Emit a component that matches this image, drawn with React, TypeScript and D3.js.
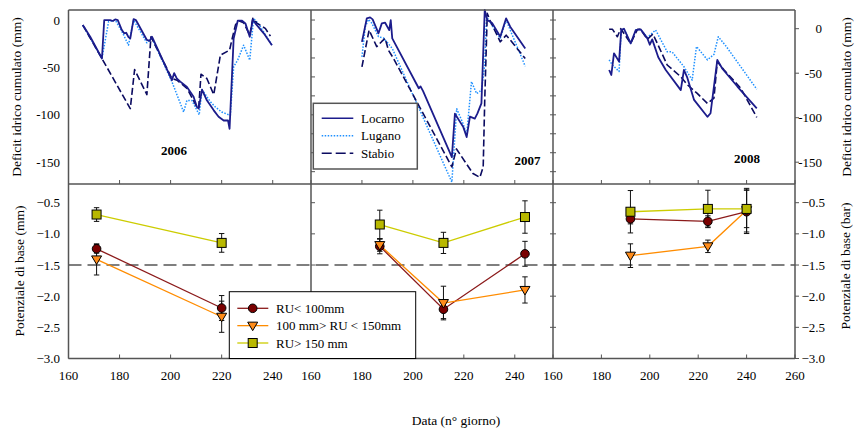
import React from "react";
import * as d3 from "d3";

// ---------- DATA ----------
// Cumulated water deficit (mm), [day, value]
const locarno2006: [number, number][] = [[165.6,-5.3],[168.5,-17.6],[173.1,-40.6],[174.0,0],[176.3,0],[177.4,-1],[178.3,0.7],[179.3,0],[180.9,-10.6],[181.8,-14],[182.6,-13.4],[183.5,-18],[184.2,-19.4],[185.5,1],[186.4,0],[190.7,-21],[191.8,-22],[192.7,-17.6],[200.5,-63.5],[201.4,-56],[202.5,-62],[203.8,-65],[206.4,-70.6],[209,-81],[210.3,-91.7],[211,-93.5],[212.3,-73.4],[214.2,-84.7],[216.9,-95.3],[218.8,-102],[220.8,-106],[222.5,-106],[223.1,-114.7],[224.7,-19.4],[226.3,-0.7],[228,-0.7],[229.3,-3.5],[231,-17.6],[232.2,0.7],[233.2,-3.5],[236.5,-14],[239.7,-26.5]];
const lugano2006: [number, number][] = [[165.6,-5.3],[173.1,-40.6],[175.7,-1.8],[178.3,0],[180.9,-12],[183.5,-26.5],[185.5,0],[190.7,-24],[192.7,-19],[200.5,-65],[205.1,-97],[206.4,-84.7],[208.4,-85],[211.2,-100],[212.3,-73.4],[215.5,-86],[217.5,-91.7],[220,-97],[223.4,-100.6],[224.7,-49.4],[226.3,-42],[228.6,-26.5],[231,-42.3],[232.5,1.8],[234.5,-4.2],[239.7,-26.5]];
const stabio2006: [number, number][] = [[165.6,-5.3],[173.1,-40.6],[184.2,-93.5],[185.9,-52.2],[190.7,-78.7],[192.3,-17.6],[200.5,-61.7],[202.5,-63.5],[206.4,-72],[210.3,-91.7],[211,-93],[211.9,-57.2],[214.2,-61.7],[216.9,-78.7],[219.5,-37],[223.1,-31.8],[224,-21],[225.4,-5.3],[226.7,-0.7],[228.6,-2.8],[231,-15.9],[232.2,1.8],[233.9,-3.5],[237.1,-8.8],[239.1,-17]];

const locarno2007: [number, number][] = [[180,-23],[181.9,1.8],[183.2,2.8],[184.2,0.7],[186.5,-14],[187.8,-3.5],[189.1,-2.8],[190.7,-10.6],[191.3,0],[191.9,-19.4],[202.3,-72],[203,-70],[204,-75],[215.3,-144.7],[216.5,-98.8],[219.8,-113],[221.1,-123.5],[222.4,-102],[224.3,-104],[225.3,-98.8],[226.9,-88],[228.2,10.6],[229.2,0],[231.2,-3.5],[234.3,-17.6],[236.6,1.8],[238.2,-7],[244.1,-30]];
const lugano2007: [number, number][] = [[180,-38.8],[181.3,-7],[182.6,0.7],[183.8,-3],[186.5,-17.6],[188.5,-19],[189.1,-21],[190.4,-25],[191.9,-30],[215.3,-171],[217.2,-93.5],[219.8,-110],[221.1,-121.7],[223,-65],[225,-77.6],[226.9,-74],[228.2,-47.6],[228.9,3.5],[230.2,-1.8],[234.3,-19.4],[236.6,0],[238.2,-10.6],[244.1,-48.7]];
const stabio2007: [number, number][] = [[180,-49.4],[182.8,-10.6],[185.8,-28],[187.8,-22.6],[189.1,-19.4],[190.4,-31.8],[192.4,-40.6],[215.3,-155],[217.1,-136],[223.6,-162],[226.3,-166],[227.6,-155],[228.2,-84.7],[229.2,7],[230.2,0],[234.3,-23],[236.6,-16],[238.2,-21],[244.1,-40.6]];

const locarno2008: [number, number][] = [[183.2,-46.4],[184.1,-52],[185.2,-27.7],[187.3,-37],[188.2,-1.5],[189.3,0],[192.1,-16.5],[194.2,-1.5],[196.2,-0.7],[199,-10.9],[200,-18],[201,-12],[203.5,-32],[206.6,-46.4],[212.8,-69],[214.1,-46.4],[215.5,-55],[218.3,-80],[223.8,-99],[225.1,-95],[227.9,-35],[230,-45],[236.2,-65],[244.2,-89.5]];
const lugano2008: [number, number][] = [[183.2,-35],[184.6,-41],[187.3,-48],[188.2,-1.5],[189.3,0],[192.1,-16.5],[194.2,-1.5],[196.2,-0.7],[199,-10],[202.4,-1.5],[207.2,-26],[209.2,-26],[214.1,-42.7],[217.5,-57.7],[219.3,-20],[223.8,-35],[226.5,-29],[228.3,-9],[231.6,-20],[244.2,-68]];
const stabio2008: [number, number][] = [[183.2,-0.7],[184.6,-0.7],[186.6,-9],[188,0],[192.1,-16.5],[194.9,-0.7],[196.2,-0.7],[199,-12],[201.3,-6],[203.1,-16.5],[207.2,-40.8],[212.8,-54],[215.5,-63],[219.6,-72.7],[223.8,-84],[226.5,-78],[227.9,-37],[230.7,-46.4],[237.6,-67],[244.2,-99.6]];

// Base potential, by measurement day
const days2006 = [171, 220];
const days2007 = [187, 212, 244];
const days2008 = [192, 224, 240];

const ruLow2006 = [-1.24, -2.19];
const ruLowErr2006 = [0.07, 0.2];
const ruMid2006 = [-1.41, -2.33];
const ruMidErr2006 = [0.25, 0.25];
const ruHigh2006 = [-0.69, -1.145];
const ruHighErr2006 = [0.11, 0.15];

const ruLow2007 = [-1.2, -2.21, -1.32];
const ruLowErr2007 = [0.12, 0.15, 0.2];
const ruMid2007 = [-1.18, -2.11, -1.9];
const ruMidErr2007 = [0.1, 0.27, 0.21];
const ruHigh2007 = [-0.85, -1.145, -0.73];
const ruHighErr2007 = [0.23, 0.17, 0.26];

const ruLow2008 = [-0.76, -0.8, -0.645];
const ruLowErr2008 = [0.08, 0.09, 0.35];
const ruMid2008 = [-1.35, -1.2, -0.62];
const ruMidErr2008 = [0.19, 0.1, 0.35];
const ruHigh2008 = [-0.645, -0.6, -0.6];
const ruHighErr2008 = [0.34, 0.3, 0.3];

const years = ["2006", "2007", "2008"];
const stationNames = ["Locarno", "Lugano", "Stabio"];
const ruNames = ["RU< 100mm", "100 mm> RU < 150mm", "RU> 150 mm"];
const topTicks = [0, -50, -100, -150];
const bottomTicks = [-0.5, -1.0, -1.5, -2.0, -2.5, -3.0];

// ---------- LAYOUT / STYLE ----------
const FONT = "'Liberation Serif', 'Times New Roman', serif";
const X0 = 68.5, X1 = 311, X2 = 553, X3 = 795;
const TOP = 10, MID = 184, BOT = 358.5;
const FRAME = "#555";

const stationStyles = [
  { stroke: "#1c1c8c", width: 1.8, dash: undefined as string | undefined, legendDash: undefined as string | undefined },
  { stroke: "#1e90ff", width: 1.5, dash: "1.5,1.5", legendDash: "1.5,1.5" },
  { stroke: "#0b0b60", width: 1.6, dash: "7,3", legendDash: "10,4" },
];
const ruStyles = [
  { line: "#8b1a1a", fill: "#7a0000", shape: "circle" },
  { line: "#ff8c00", fill: "#ff8c1a", shape: "tri" },
  { line: "#cccc00", fill: "#b8b800", shape: "square" },
];

const panels = [
  {
    year: years[0],
    x: d3.scaleLinear().domain([160, 255]).range([X0, X1]),
    yTop: d3.scaleLinear().domain([-173, 10.6]).range([MID, TOP]),
    xTicks: [160, 180, 200, 220, 240],
    stations: [locarno2006, lugano2006, stabio2006],
    days: days2006,
    ru: [[ruLow2006, ruLowErr2006], [ruMid2006, ruMidErr2006], [ruHigh2006, ruHighErr2006]],
    yearPos: [174, 155],
  },
  {
    year: years[1],
    x: d3.scaleLinear().domain([160, 255]).range([X1, X2]),
    yTop: d3.scaleLinear().domain([-173, 10.6]).range([MID, TOP]),
    xTicks: [160, 180, 200, 220, 240],
    stations: [locarno2007, lugano2007, stabio2007],
    days: days2007,
    ru: [[ruLow2007, ruLowErr2007], [ruMid2007, ruMidErr2007], [ruHigh2007, ruHighErr2007]],
    yearPos: [527.5, 165],
  },
  {
    year: years[2],
    x: d3.scaleLinear().domain([160, 260]).range([X2, X3]),
    yTop: d3.scaleLinear().domain([-174.5, 21]).range([MID, TOP]),
    xTicks: [160, 180, 200, 220, 240, 260],
    stations: [locarno2008, lugano2008, stabio2008],
    days: days2008,
    ru: [[ruLow2008, ruLowErr2008], [ruMid2008, ruMidErr2008], [ruHigh2008, ruHighErr2008]],
    yearPos: [747, 163],
  },
];

const yBot = d3.scaleLinear().domain([-3, -0.2]).range([BOT, MID]);
const fmt = d3.format(".1f");

function Marker({ shape, cx, cy, fill }: { shape: string; cx: number; cy: number; fill: string }) {
  if (shape === "circle") return <circle cx={cx} cy={cy} r={4.3} fill={fill} stroke="#000" strokeWidth={1} />;
  if (shape === "square") return <rect x={cx - 4.5} y={cy - 4.5} width={9} height={9} fill={fill} stroke="#000" strokeWidth={1} />;
  const s = 5;
  return <path d={`M${cx - s},${cy - 3.5}L${cx + s},${cy - 3.5}L${cx},${cy + 5}Z`} fill={fill} stroke="#000" strokeWidth={1} />;
}

export default function App() {
  const midTicks = d3.range(0, -161, -20);
  return (
    <svg width={857} height={432} style={{ position: "absolute", left: 0, top: 0, background: "#fff" }} fontFamily={FONT}>
      {/* top panel lines */}
      {panels.map((p, pi) => {
        const line = d3.line<[number, number]>().x((d) => p.x(d[0])).y((d) => p.yTop(d[1]));
        return (
          <g key={"t" + pi}>
            {[1, 2, 0].map((si) => (
              <path key={si} d={line(p.stations[si]) || ""} fill="none" stroke={stationStyles[si].stroke}
                strokeWidth={stationStyles[si].width} strokeDasharray={stationStyles[si].dash} strokeLinejoin="round" />
            ))}
            <text x={p.yearPos[0]} y={p.yearPos[1]} textAnchor="middle" fontSize={13} fontWeight="bold">{p.year}</text>
          </g>
        );
      })}

      {/* threshold line */}
      <line x1={X0} x2={X3} y1={yBot(-1.5)} y2={yBot(-1.5)} stroke="#000" strokeWidth={1.2} strokeDasharray="13,6" />

      {/* bottom panels */}
      {panels.map((p, pi) => {
        return (
          <g key={"b" + pi}>
            {p.ru.map(([vals, errs], ri) => {
              const pts: [number, number][] = p.days.map((d, i) => [d, vals[i]]);
              const line = d3.line<[number, number]>().x((d) => p.x(d[0])).y((d) => yBot(d[1]));
              return <path key={"l" + ri} d={line(pts) || ""} fill="none" stroke={ruStyles[ri].line} strokeWidth={1.3} />;
            })}
            {p.ru.map(([vals, errs], ri) => (
              <g key={"e" + ri}>
                {p.days.map((d, i) => {
                  const cx = p.x(d);
                  const y1 = yBot(vals[i] + errs[i]);
                  const y2 = yBot(vals[i] - errs[i]);
                  return (
                    <g key={i} stroke="#111" strokeWidth={1}>
                      <line x1={cx} x2={cx} y1={y1} y2={y2} />
                      <line x1={cx - 2.7} x2={cx + 2.7} y1={y1} y2={y1} />
                      <line x1={cx - 2.7} x2={cx + 2.7} y1={y2} y2={y2} />
                    </g>
                  );
                })}
              </g>
            ))}
            {p.ru.map(([vals], ri) => (
              <g key={"m" + ri}>
                {p.days.map((d, i) => (
                  <Marker key={i} shape={ruStyles[ri].shape} cx={p.x(d)} cy={yBot(vals[i])} fill={ruStyles[ri].fill} />
                ))}
              </g>
            ))}
          </g>
        );
      })}

      {/* ticks */}
      {panels.map((p, pi) => (
        <g key={"xt" + pi} stroke={FRAME} strokeWidth={1}>
          {p.xTicks.map((t) => (
            <g key={t}>
              <line x1={p.x(t)} x2={p.x(t)} y1={BOT} y2={BOT - 4} />
              <line x1={p.x(t)} x2={p.x(t)} y1={MID - 4} y2={MID} />
            </g>
          ))}
        </g>
      ))}
      <g stroke={FRAME} strokeWidth={1}>
        {midTicks.map((t) => (
          <g key={t}>
            <line x1={X1} x2={X1 + 4} y1={panels[1].yTop(t)} y2={panels[1].yTop(t)} />
            <line x1={X2 - 3} x2={X2 + 3} y1={panels[1].yTop(t)} y2={panels[1].yTop(t)} />
          </g>
        ))}
        {bottomTicks.map((t) => (
          <g key={t}>
            <line x1={X1} x2={X1 + 4} y1={yBot(t)} y2={yBot(t)} />
            <line x1={X2 - 3} x2={X2 + 3} y1={yBot(t)} y2={yBot(t)} />
            <line x1={X3} x2={X3 + 4} y1={yBot(t)} y2={yBot(t)} />
          </g>
        ))}
        {topTicks.map((t) => (
          <line key={t} x1={X3} x2={X3 + 4} y1={panels[2].yTop(t)} y2={panels[2].yTop(t)} />
        ))}
      </g>

      {/* frame */}
      <g stroke={FRAME} strokeWidth={1.5} fill="none">
        <line x1={X0} x2={X3} y1={TOP} y2={TOP} />
        <line x1={X0} x2={X3} y1={MID} y2={MID} />
        <line x1={X0} x2={X3} y1={BOT} y2={BOT} />
        {[X0, X1, X2, X3].map((x) => (
          <line key={x} x1={x} x2={x} y1={TOP} y2={BOT} />
        ))}
      </g>

      {/* tick labels */}
      <g fontSize={13} fill="#000">
        {topTicks.map((t) => (
          <text key={"lt" + t} x={60} y={panels[0].yTop(t)} dy="0.35em" textAnchor="end">{t}</text>
        ))}
        {topTicks.map((t) => (
          <text key={"rt" + t} x={822} y={panels[2].yTop(t)} dy="0.35em" textAnchor="end">{t}</text>
        ))}
        {bottomTicks.map((t) => (
          <text key={"lb" + t} x={60} y={yBot(t)} dy="0.35em" textAnchor="end">{fmt(t)}</text>
        ))}
        {bottomTicks.map((t) => (
          <text key={"rb" + t} x={825} y={yBot(t)} dy="0.35em" textAnchor="end">{fmt(t)}</text>
        ))}
        {panels.map((p, pi) =>
          p.xTicks.map((t) => (
            <text key={pi + "x" + t} x={p.x(t)} y={380} textAnchor="middle">{t}</text>
          ))
        )}
      </g>

      {/* axis titles */}
      <g fontSize={13.5} fill="#000" textAnchor="middle">
        <text transform="translate(21,97) rotate(-90)">Deficit idrico cumulato (mm)</text>
        <text transform="translate(24,271) rotate(-90)">Potenziale di base (mm)</text>
        <text transform="translate(851,97) rotate(-90)">Deficit idrico cumulato (mm)</text>
        <text transform="translate(850,266) rotate(-90)">Potenziale di base (bar)</text>
        <text x={456} y={425}>Data (n° giorno)</text>
      </g>

      {/* legend 1 */}
      <g>
        <rect x={313.3} y={103.3} width={104} height={65.7} fill="#fff" stroke={FRAME} strokeWidth={1.5} />
        {stationNames.map((n, i) => {
          const y = 118.3 + i * 17.5;
          return (
            <g key={n}>
              <line x1={321.7} x2={353.3} y1={y} y2={y} stroke={stationStyles[i].stroke} strokeWidth={1.6}
                strokeDasharray={stationStyles[i].legendDash} />
              <text x={361} y={y} dy="0.35em" fontSize={13}>{n}</text>
            </g>
          );
        })}
      </g>

      {/* legend 2 */}
      <g>
        <rect x={229.3} y={291.7} width={186.4} height={66.8} fill="#fff" stroke="#000" strokeWidth={1} />
        {ruNames.map((n, i) => {
          const y = 308.3 + i * 17.35;
          return (
            <g key={n}>
              <line x1={237.3} x2={268.3} y1={y} y2={y} stroke={ruStyles[i].line} strokeWidth={1.3} />
              <Marker shape={ruStyles[i].shape} cx={252.7} cy={y} fill={ruStyles[i].fill} />
              <text x={276} y={y} dy="0.35em" fontSize={13}>{n}</text>
            </g>
          );
        })}
      </g>
    </svg>
  );
}
